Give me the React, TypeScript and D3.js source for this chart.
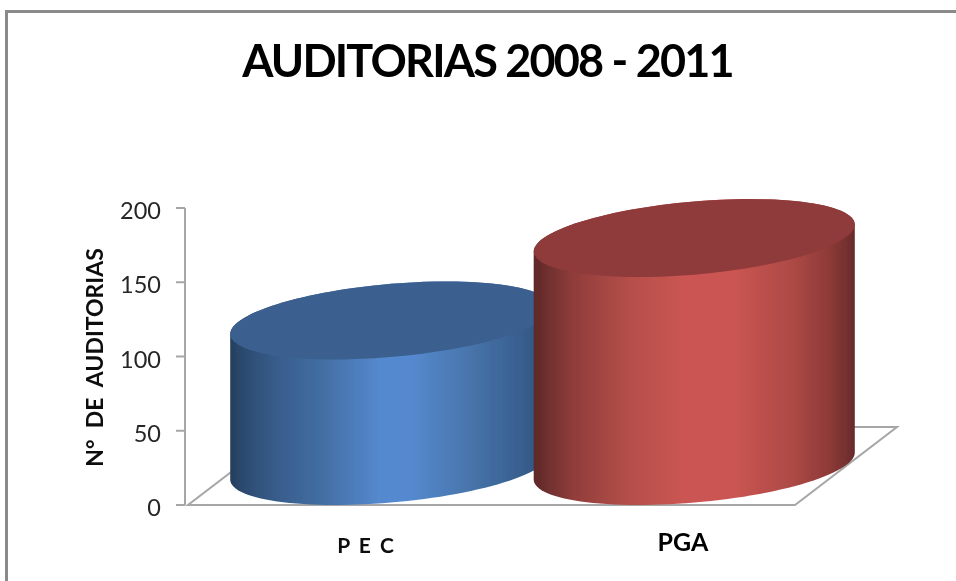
import React from "react";
import * as d3 from "d3";

const categories = ["P E C", "PGA"];
const values = [98, 153.5];
const yTicks = [0, 50, 100, 150, 200];
const titleText = "AUDITORIAS 2008 - 2011";
const yTitle = "N°  DE  AUDITORIAS";
const sideStops = {
  blue: [[0, "#263f5e"], [0.05, "#2d4c72"], [0.14, "#375c8a"], [0.3, "#4470a6"], [0.47, "#5589cf"], [0.56, "#5589cf"], [0.72, "#4a78b0"], [0.94, "#345a88"], [1, "#2a4a70"]],
  red: [[0, "#5e2828"], [0.04, "#6e2f2e"], [0.12, "#8f3c3a"], [0.3, "#b54f4a"], [0.47, "#cb5552"], [0.62, "#cb5552"], [0.8, "#ae4a46"], [0.92, "#8e3a38"], [1, "#682b2b"]],
};
const topColors = ["#3b618f", "#8f3a3a"];
const fills = ["blue", "red"];

const W = 956, H = 581;
const floorX0 = 188, floorX1 = 795, depthX = 102, depthY = 78;
const y = d3.scaleLinear().domain([0, 200]).range([505, 208]);
const x = d3.scaleBand().domain(categories).range([floorX0 + depthX / 2, floorX1 + depthX / 2]);
const FONT = "Lato, Carlito, sans-serif";
const rx = x.bandwidth() * 0.529;
const slant = 13.5, ry = 36.6;
const axisColor = "#a6a6a6";

function ellipsePoints(cx: number, cy: number, from: number, to: number) {
  const n = 60;
  return d3.range(n + 1).map((i) => {
    const t = from + ((to - from) * i) / n;
    return [cx + rx * Math.cos(t), cy - slant * Math.cos(t) + ry * Math.sin(t)] as [number, number];
  });
}

function Cylinder({ cat, v, i }: { cat: string; v: number; i: number }) {
  const cx = x(cat)! + x.bandwidth() / 2;
  const baseY = y(0) - depthY / 2;
  const topY = baseY - (y(0) - y(v));
  const line = d3.line();
  const bottomFront = ellipsePoints(cx, baseY, 0, Math.PI);
  const topBack = ellipsePoints(cx, topY, Math.PI, Math.PI * 2);
  const side = line([...bottomFront, ...topBack])! + "Z";
  const top = line(ellipsePoints(cx, topY, 0, Math.PI * 2))! + "Z";
  return (
    <g>
      <path d={side} fill={`url(#grad-${fills[i]})`} />
      <path d={top} fill={topColors[i]} />
    </g>
  );
}

export default function App() {
  return (
    <svg width={W} height={H} style={{ position: "absolute", left: 0, top: 0, background: "#fff" }}>
      <defs>
        {Object.entries(sideStops).map(([k, stops]) => (
          <linearGradient key={k} id={`grad-${k}`} x1="0" x2="1" y1="0" y2="0">
            {stops.map(([o, c]) => (
              <stop key={String(o)} offset={o as number} stopColor={c as string} />
            ))}
          </linearGradient>
        ))}
        <filter id="soft" x="0" y="0" width="100%" height="100%" filterUnits="userSpaceOnUse" primitiveUnits="userSpaceOnUse">
          <feGaussianBlur stdDeviation={0.5} />
        </filter>
      </defs>
      <g filter="url(#soft)">
        <rect width={W} height={H} fill="#fff" />
        <path d={`M6.5,581V11.5H${W}`} fill="none" stroke="#8a8a8a" strokeWidth={3} />
        <text x={487.5} y={77} textAnchor="middle" fontFamily={FONT} fontWeight={700} fontSize={45} letterSpacing={-1.8} fill="#000">
          {titleText}
        </text>
        <text transform="translate(103,357.5) rotate(-90)" textAnchor="middle" fontFamily={FONT} fontWeight={700} fontSize={23} fill="#111" xmlSpace="preserve">
          {yTitle}
        </text>
        <path
          d={`M${floorX0},${y(0)}H${floorX1}L${floorX1 + depthX},${y(0) - depthY}H${floorX0 + depthX}Z`}
          fill="none"
          stroke={axisColor}
          strokeWidth={2}
        />
        <line x1={185} x2={185} y1={y(200)} y2={y(0)} stroke={axisColor} strokeWidth={2} />
        {yTicks.map((t) => (
          <g key={t}>
            <line x1={176} x2={185} y1={y(t)} y2={y(t)} stroke={axisColor} strokeWidth={2} />
            <text x={161} y={y(t) + 11} textAnchor="end" fontFamily={FONT} fontSize={23.5} fill="#262626">
              {t}
            </text>
          </g>
        ))}
        {categories.map((c, i) => (
          <Cylinder key={c} cat={c} v={values[i]} i={i} />
        ))}
        <text x={366.5} y={553} textAnchor="middle" fontFamily={FONT} fontWeight={700} fontSize={21} letterSpacing={2} fill="#111" xmlSpace="preserve">
          {categories[0]}
        </text>
        <text x={683} y={551} textAnchor="middle" fontFamily={FONT} fontWeight={700} fontSize={25} fill="#000">
          {categories[1]}
        </text>
      </g>
    </svg>
  );
}
